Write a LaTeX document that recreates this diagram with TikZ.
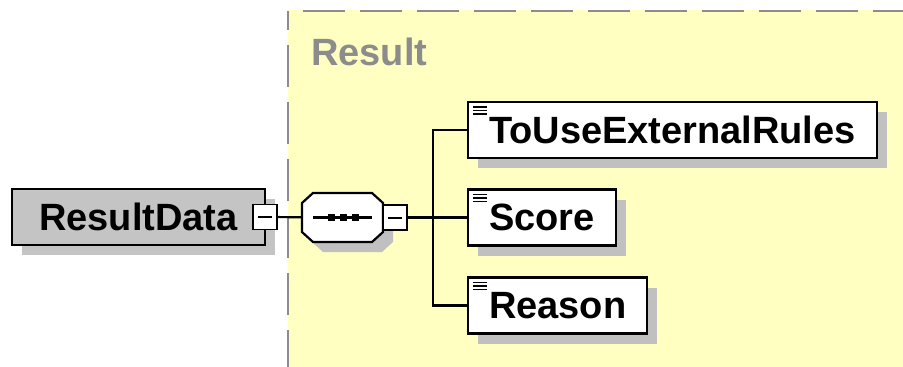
\documentclass[tikz,border=0pt]{standalone}
\usepackage{fontspec}
\setmainfont{Liberation Sans}
\usetikzlibrary{shadows}
\definecolor{areayellow}{RGB}{255,255,194}
\definecolor{areagray}{RGB}{140,140,140}
\definecolor{shade}{RGB}{192,192,192}
\definecolor{parentgray}{RGB}{196,196,196}
\tikzset{elem/.style={draw,line width=2.2pt,fill=white,outer sep=0pt,
        minimum height=56pt,inner xsep=21pt,anchor=west,
        font=\bfseries\fontsize{38}{40}\selectfont,
        drop shadow={shadow xshift=10pt,shadow yshift=-10pt,fill=shade,opacity=1}},
    docicon/.style={path picture={
        \foreach \k in {5,8.5,12}
        \draw[line width=1.4pt] ([shift={(5pt,-\k pt)}]path picture bounding box.north west) -- ++(14pt,0pt);}},
    toggle/.style={draw,line width=1.8pt,fill=white,outer sep=0pt,
        minimum width=24pt,minimum height=25pt,inner sep=0pt,
        path picture={\draw[line width=2pt] ([xshift=5pt]path picture bounding box.west)
            -- ([xshift=-5pt]path picture bounding box.east);}},
    seqbox/.style={inner sep=0pt,outer sep=0pt,minimum width=81pt,minimum height=49pt},
    dot/.style={fill=black,inner sep=0pt,minimum size=7pt},
    link/.style={line width=2.2pt}}

\begin{document}
\begin{tikzpicture}[x=1pt,y=-1pt]
        \useasboundingbox (0,0) rectangle (903,367);
        % group area
        \fill[areayellow] (288,10) rectangle (903,367);
        \draw[areagray,line width=2.2pt,dash pattern=on 42pt off 15pt,dash phase=23pt] (288,11) -- (288,367);
        \draw[areagray,line width=2.2pt,dash pattern=on 42pt off 15pt,dash phase=42pt] (288,11) -- (903,11);
        \node[anchor=base west,text=areagray,inner sep=0pt,font=\bfseries\fontsize{38}{40}\selectfont] (title) at (311,65) {Result};
        % parent element
        \node[elem,fill=parentgray,minimum width=253pt,anchor=center,
              drop shadow={shadow xshift=10pt,shadow yshift=-10pt,fill=parentgray,opacity=1}] (data) at (138.5,217) {ResultData\hspace{12pt}};
        \node[toggle] (datatog) at (data.east) {};
        % sequence compositor
        \node[seqbox] (seq) at (342.5,217.5) {};
        \draw[link,fill=white,drop shadow={shadow xshift=10pt,shadow yshift=-10pt,fill=shade,opacity=1}]
            ([xshift=11pt]seq.north west) -- ([xshift=-11pt]seq.north east)
            -- ([yshift=-10pt]seq.north east) -- ([yshift=10pt]seq.south east)
            -- ([xshift=-11pt]seq.south east) -- ([xshift=11pt]seq.south west)
            -- ([yshift=10pt]seq.south west) -- ([yshift=-10pt]seq.north west) -- cycle;
        \node[toggle,anchor=west] (seqtog) at (seq.east) {};
        \draw[link] ([xshift=-29.5pt]seq.center) -- ([xshift=29.5pt]seq.center);
        \foreach \d in {-11,1,13}
            \node[dot] at ([xshift=\d pt]seq.center) {};
        % child elements
        \node[elem,docicon] (rules) at (468,130) {ToUseExternalRules};
        \node[elem,docicon] (score) at (468,217.5) {Score};
        \node[elem,docicon] (reason) at (468,305.5) {Reason};
        \coordinate (fork) at (433,217.5);
        \draw[link] (datatog) -- (seq);
        \draw[link] (seqtog) -- (fork);
        \draw[link] (fork) |- (rules.west);
        \draw[link] (fork) -- (score.west);
        \draw[link] (fork) |- (reason.west);
\end{tikzpicture}
\end{document}
